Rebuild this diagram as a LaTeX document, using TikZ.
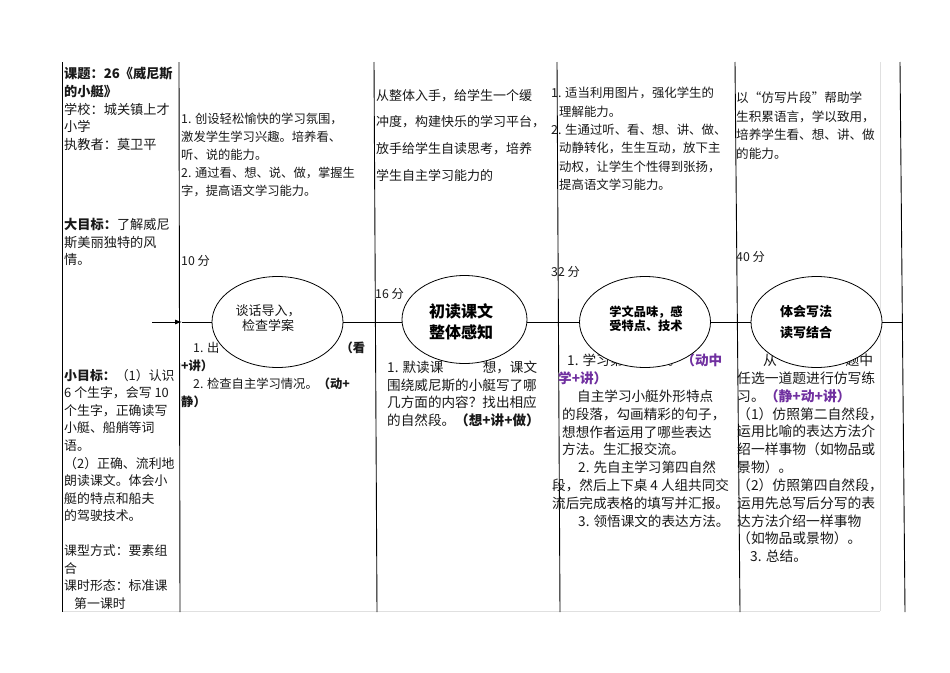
\documentclass[tikz,border=0pt]{standalone}
\usepackage{fontspec}
\setmainfont{Noto Sans CJK SC}
\usetikzlibrary{arrows.meta,shapes.geometric}
\definecolor{purp}{RGB}{112,48,160}
\definecolor{txt}{RGB}{25,25,25}
\tikzset{
  tb/.style={anchor=north west, inner sep=0pt, align=left, text=txt},
  fs/.style 2 args={font=\fontsize{#1}{#2}\selectfont},
  fsb/.style 2 args={font=\fontsize{#1}{#2}\selectfont\bfseries},
  oval/.style={ellipse, draw, fill=white, line width=0.8pt, minimum width=131pt, minimum height=91pt, inner sep=0pt},
  rulel/.style={line width=0.9pt},
  faint/.style={draw=black!12, line width=0.8pt},
  otext/.style={inner sep=0pt, align=center, text=black},
  flow/.style={line width=0.8pt},
}
\begin{document}
\begin{tikzpicture}[x=1pt,y=-1pt]
\useasboundingbox[fill=white] (0,0) rectangle (950,672);
% table lines
\draw[faint] (62,611) -- (880,611);
\draw[faint] (880,62) -- (880,611);
\draw[rulel] (62,62) -- (62,612);
\draw[rulel] (179,62) -- (180,612);
\draw[rulel] (374,62) -- (377,612);
\draw[rulel] (557,62) -- (560,612);
\draw[rulel] (735,62) -- (740,612);
\draw[rulel] (900,62) -- (905,612);

% column 1
\node[tb, fs={13.2}{17.75}] (c1a) at (64,67) {\textbf{课题：26《威尼斯}\\\textbf{的小艇》}\\学校：城关镇上才\\小学\\执教者：莫卫平};
\node[tb, fs={13.2}{17.75}] (c1b) at (64,218) {\textbf{大目标：}了解威尼\\斯美丽独特的风\\情。};
\node[tb, fs={12.9}{17.55}] (c1c) at (64,369) {\textbf{小目标：}（1）认识\\6 个生字，会写 10\\个生字，正确读写\\小艇、船艄等词\\语。\\（2）正确、流利地\\朗读课文。体会小\\艇的特点和船夫\\的驾驶技术。\\[17.55pt]课型方式：要素组\\合\\课时形态：标准课\\\hspace*{10pt}第一课时};

% column 2
\node[tb, fs={12.3}{18}] (c2a) at (181,113) {1. 创设轻松愉快的学习氛围，\\激发学生学习兴趣。培养看、\\听、说的能力。\\2. 通过看、想、说、做，掌握生\\字，提高语文学习能力。};
\node[tb, fs={12.3}{18}] (c2t) at (181,255) {10 分};
\node[tb, fs={12.3}{18}] (c2b) at (181,342) {\hspace*{12pt}\makebox[172pt][s]{1. 出\hfill{}\textbf{（看}}\\\textbf{+讲）}\\\hspace*{12pt}2. 检查自主学习情况。\textbf{（动+}\\\textbf{静）}};

% column 3
\node[tb, fs={13}{26.7}] (c3a) at (376,89) {从整体入手，给学生一个缓\\冲度，构建快乐的学习平台，\\放手给学生自读思考，培养\\学生自主学习能力的};
\node[tb, fs={12.3}{18}] (c3t) at (375,288) {16 分};
\node[tb, fs={13.6}{17.6}] (c3b) at (387,361) {\makebox[150pt][s]{1. 默读课\hfill{}想，课文}\\围绕威尼斯的小艇写了哪\\几方面的内容？找出相应\\的自然段。\textbf{（想+讲+做）}};

% column 4
\node[tb, fs={12.4}{18.4}] (c4a) at (551,87) {1. 适当利用图片，强化学生的\\\hspace*{8pt}理解能力。\\2. 生通过听、看、想、讲、做、\\\hspace*{8pt}动静转化，生生互动，放下主\\\hspace*{8pt}动权，让学生个性得到张扬，\\\hspace*{8pt}提高语文学习能力。};
\node[tb, fs={12.3}{18}] (c4t) at (551,266) {32 分};
\node[tb, fs={13.6}{17.8}] (c4b) at (552,354) {\hspace*{15pt}\makebox[155pt][s]{1. 学习第\hfill{}。\textcolor{purp}{\textbf{（动中}}}\\\hspace*{6pt}\textcolor{purp}{\textbf{学+讲）}}\\\hspace*{25pt}自主学习小艇外形特点\\\hspace*{10pt}的段落，勾画精彩的句子，\\\hspace*{10pt}想想作者运用了哪些表达\\\hspace*{10pt}方法。生汇报交流。\\\hspace*{26pt}2. 先自主学习第四自然\\段，然后上下桌 4 人组共同交\\流后完成表格的填写并汇报。\\\hspace*{26pt}3. 领悟课文的表达方法。};

% column 5
\node[tb, fs={12.6}{18.4}] (c5a) at (736,92) {以“仿写片段”帮助学\\生积累语言，学以致用，\\培养学生看、想、讲、做\\的能力。};
\node[tb, fs={12.3}{18}] (c5t) at (736,251) {40 分};
\node[tb, fs={13.8}{17.8}] (c5b) at (737,354) {\hspace*{26pt}\makebox[110pt][s]{从\hfill{}题中}\\任选一道题进行仿写练\\习。\textcolor{purp}{\textbf{（静+动+讲）}}\\（1）仿照第二自然段，\\运用比喻的表达方法介\\绍一样事物（如物品或\\景物）。\\（2）仿照第四自然段，\\运用先总写后分写的表\\达方法介绍一样事物\\（如物品或景物）。\\\hspace*{13pt}3. 总结。};

% flow line
\coordinate (start) at (152,322);
\coordinate (tip) at (182,322);
\coordinate (fin) at (902,322);
\node[oval] (e1) at (277.5,322) {};
\node[oval, minimum width=125pt, minimum height=88pt] (e2) at (464.5,319.5) {};
\node[oval] (e3) at (645,322) {};
\node[oval] (e4) at (816.5,322) {};
\draw[flow, -{Latex[length=7pt,width=5pt]}] (start) -- (tip);
\draw[flow] (tip) -- (e1.west);
\draw[flow] (e1.east) -- (e1.east -| e2.west);
\draw[flow] (e3.west -| e2.east) -- (e3.west);
\draw[flow] (e3.east) -- (e4.west);
\draw[flow] (e4.east) -- (fin);

\node[otext, fs={13}{15}, text=txt] (t1) at (268,318) {谈话导入，\\检查学案};
\node[otext, fsb={16}{21}] (t2) at (461,322) {初读课文\\整体感知};
\node[otext, fsb={12.2}{14.5}] (t3) at (646,319) {学文品味，感\\受特点、技术};
\node[otext, fsb={13}{21}] (t4) at (806,322) {体会写法\\读写结合};
\end{tikzpicture}
\end{document}
